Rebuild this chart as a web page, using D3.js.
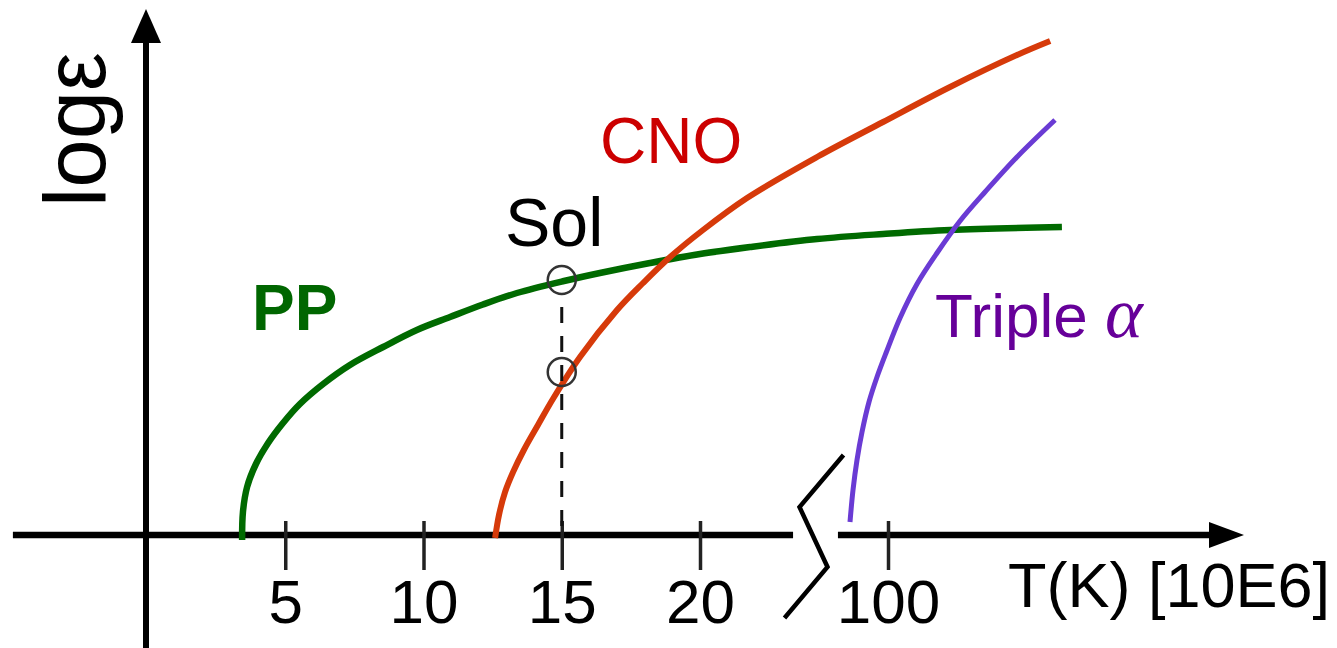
<!DOCTYPE html>
<html>
<head>
<meta charset="utf-8">
<title>log epsilon vs T</title>
<script src="https://cdn.jsdelivr.net/npm/d3@7"></script>
<style>
    body { margin: 0; background: #ffffff; }
    #chart svg { display: block; }
    .lbl { font-family: "Liberation Sans", Arial, sans-serif; }
</style>
</head>
<body>
<div id="chart"></div>
<script>

//- Prepare Globals
const CHARTDIVNAME = "#chart";
const SVGWIDTH = 1337;
const SVGHEIGHT = 648;

//- Data
//  temperature in 10E6 K (axis is broken between 20 and 100), rate is log(epsilon) in arbitrary units
const ppTemp = [3.44, 3.47, 3.62, 3.94, 4.38, 4.92, 5.53, 6.37, 7.34, 8.54, 9.76, 10.96, 12.15, 13.38, 15.08, 16.38, 18.19, 20, 41.3, 69.8, 97.9, 126.4, 174];
const ppRate = [-0.1, 0.46, 0.96, 1.42, 1.84, 2.24, 2.62, 3.02, 3.40, 3.76, 4.10, 4.36, 4.61, 4.84, 5.08, 5.24, 5.44, 5.62, 5.76, 5.92, 6.02, 6.10, 6.16];

const cnoTemp = [12.59, 12.73, 12.95, 13.24, 13.63, 14.14, 14.68, 15.66, 17.0, 17.94, 18.92, 21.28, 40.0, 69.8, 97.9, 126.4, 154.9, 169.0];
const cnoRate = [-0.06, 0.40, 0.86, 1.26, 1.70, 2.20, 2.72, 3.56, 4.50, 5.04, 5.56, 6.10, 6.74, 7.56, 8.26, 8.96, 9.60, 9.88];

const tripleTemp = [83.83, 85.11, 86.81, 88.94, 91.91, 95.32, 99.15, 105.11, 112.34, 120.85, 130.64, 141.28, 154.89, 171.06];
const tripleRate = [0.26, 0.90, 1.50, 2.06, 2.66, 3.16, 3.64, 4.34, 5.02, 5.64, 6.28, 6.86, 7.56, 8.30];

const solTemp = 15;
const solRates = [5.10, 3.26];     // PP and CNO at the Sun's core temperature

const tickValues = [5, 10, 15, 20, 100];
const tickLabels = ["5", "10", "15", "20", "100"];

const axisBreak = [59.6, 78.7];    // gap in the T axis


function createChart(){

    let svg = d3.select(CHARTDIVNAME).append("svg")
        .attr("width", SVGWIDTH)
        .attr("height", SVGHEIGHT);

    svg.append("rect").attr("width", SVGWIDTH).attr("height", SVGHEIGHT).attr("fill", "#fff");

    //- Scales; x is piecewise because of the break
    let xScale = d3.scaleLinear()
        .domain([0, 20, 100])
        .range([147, 700, 888]);

    let yScale = d3.scaleLinear()
        .domain([0, 10])
        .range([535, 35]);

    let x0 = xScale(0);
    let y0 = yScale(0);


    //-- Axes
    let axisGroup = svg.append("g");

    //- T axis, in two pieces around the break
    axisGroup.append("line")
        .attr("x1", xScale(-4.85)).attr("x2", xScale(axisBreak[0]))
        .attr("y1", y0).attr("y2", y0)
        .attr("stroke", "#000").attr("stroke-width", 6.5);

    axisGroup.append("line")
        .attr("x1", xScale(axisBreak[1])).attr("x2", 1212)
        .attr("y1", y0).attr("y2", y0)
        .attr("stroke", "#000").attr("stroke-width", 6.5);

    axisGroup.append("path")
        .attr("d", `M1209,${y0 - 13} L1244,${y0} L1209,${y0 + 13} Z`)
        .attr("fill", "#000");

    //- Break mark
    let bx = (xScale(axisBreak[0]) + xScale(axisBreak[1])) / 2;
    axisGroup.append("path")
        .attr("d", `M${bx + 28},${y0 - 80} L${bx - 16},${y0 - 28} L${bx + 12},${y0 + 32} L${bx - 31},${y0 + 83}`)
        .attr("fill", "none")
        .attr("stroke", "#000")
        .attr("stroke-width", 4.5);

    //- log epsilon axis
    axisGroup.append("line")
        .attr("x1", x0 - 1).attr("x2", x0 - 1)
        .attr("y1", SVGHEIGHT).attr("y2", 40)
        .attr("stroke", "#000").attr("stroke-width", 6);

    axisGroup.append("path")
        .attr("d", `M${x0 - 16},43 L${x0 - 1},9 L${x0 + 14},43 Z`)
        .attr("fill", "#000");

    //- Ticks and tick labels
    let xAxis = d3.axisBottom(xScale)
        .tickValues(tickValues)
        .tickFormat((d, i) => tickLabels[i])
        .tickSize(35);

    let tickGroup = svg.append("g")
        .attr("transform", `translate(0, ${y0})`)
        .call(xAxis);

    tickGroup.select(".domain").remove();

    tickGroup.selectAll(".tick line")
        .attr("y1", -14)
        .attr("y2", 35)
        .attr("stroke", "#222")
        .attr("stroke-width", 3.5);

    tickGroup.selectAll(".tick text")
        .attr("class", "lbl")
        .attr("y", 88)
        .attr("dy", null)
        .attr("fill", "#000")
        .style("font-size", "62px");


    //-- Curves
    let line = d3.line()
        .x(d => xScale(d[0]))
        .y(d => yScale(d[1]))
        .curve(d3.curveCatmullRom.alpha(0.5));

    let curves = [
        {pts: d3.zip(ppTemp, ppRate), color: "#006a00", width: 6.5},
        {pts: d3.zip(cnoTemp, cnoRate), color: "#d63a0a", width: 6},
        {pts: d3.zip(tripleTemp, tripleRate), color: "#6a3bd4", width: 5}
    ];

    svg.append("g").selectAll("path")
        .data(curves)
        .enter()
        .append("path")
        .attr("d", d => line(d.pts))
        .attr("fill", "none")
        .attr("stroke", d => d.color)
        .attr("stroke-width", d => d.width);


    //-- Sun marker: dashed drop line and two circles
    svg.append("line")
        .attr("x1", xScale(solTemp)).attr("x2", xScale(solTemp))
        .attr("y1", yScale(solRates[0]) + 27)
        .attr("y2", y0)
        .attr("stroke", "#111")
        .attr("stroke-width", 3)
        .attr("stroke-dasharray", "16,13");

    svg.append("g").selectAll("circle")
        .data(solRates)
        .enter()
        .append("circle")
        .attr("cx", xScale(solTemp))
        .attr("cy", d => yScale(d))
        .attr("r", 14)
        .attr("fill", "none")
        .attr("stroke", "#333")
        .attr("stroke-width", 2.5);


    //-- Text labels
    let labelGroup = svg.append("g").attr("class", "lbl");

    labelGroup.append("text")
        .attr("transform", "translate(105, 207) rotate(-90)")
        .style("font-size", "87px")
        .attr("fill", "#000")
        .text("log\u03b5");

    labelGroup.append("text")
        .attr("x", 1008).attr("y", 607)
        .style("font-size", "63px")
        .attr("fill", "#000")
        .text("T(K) [10E6]");

    labelGroup.append("text")
        .attr("x", 505).attr("y", 246)
        .style("font-size", "68px")
        .attr("fill", "#000")
        .text("Sol");

    labelGroup.append("text")
        .attr("x", 600).attr("y", 163)
        .style("font-size", "64px")
        .attr("fill", "#cc0000")
        .text("CNO");

    labelGroup.append("text")
        .attr("x", 252).attr("y", 330)
        .style("font-size", "64px")
        .style("font-weight", "bold")
        .attr("fill", "#006600")
        .text("PP");

    let tripleText = labelGroup.append("text")
        .attr("x", 935).attr("y", 337)
        .style("font-size", "62px")
        .attr("fill", "#660099");

    tripleText.append("tspan").text("Triple ");
    tripleText.append("tspan")
        .style("font-family", "'Liberation Serif', serif")
        .style("font-style", "italic")
        .style("font-size", "72px")
        .text("\u03b1");
}


createChart();

</script>
</body>
</html>
